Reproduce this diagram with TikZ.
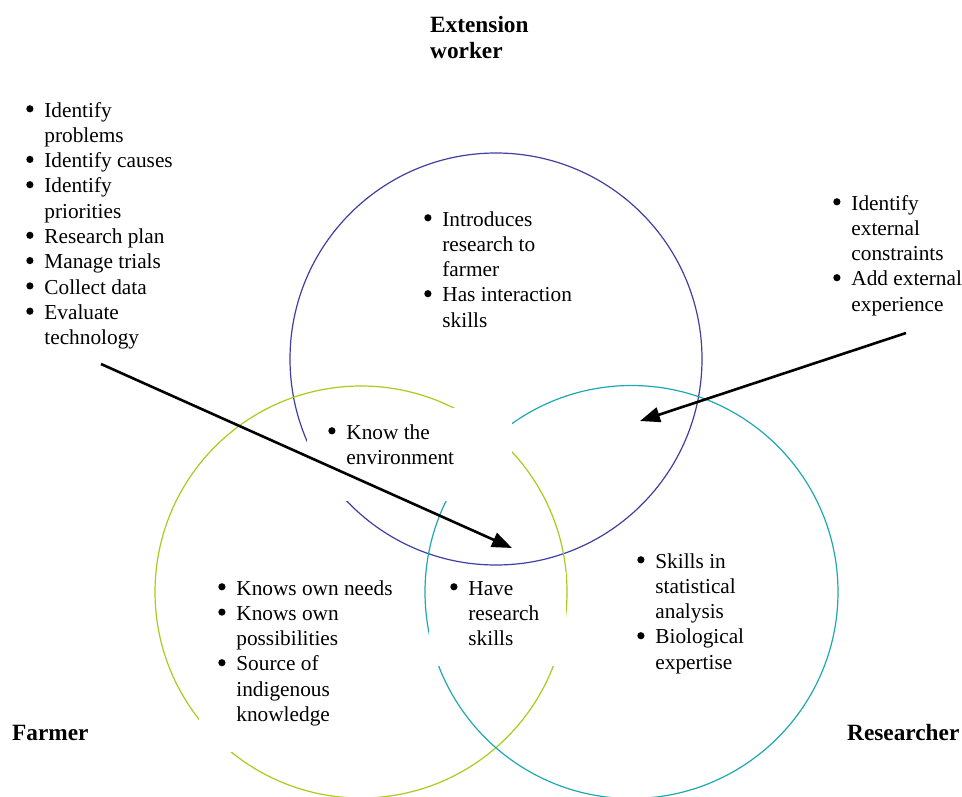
\documentclass[tikz,border=0pt]{standalone}
\usepackage{fontspec}
\setmainfont{Liberation Serif}
\usetikzlibrary{arrows.meta}
\definecolor{extcol}{RGB}{64,64,160}
\definecolor{farmcol}{RGB}{168,204,30}
\definecolor{rescol}{RGB}{32,168,176}
% round list bullet, sized to the text
\newcommand\bul{\tikz[baseline=0pt]{\fill (3.7pt,8.2pt) circle (3.6pt);
  \useasboundingbox (0pt,0pt) rectangle (7.4pt,0pt);}}
\begin{document}
\begin{tikzpicture}[x=1pt,y=-1pt,
  ring/.style={line width=1.2pt},
  mask/.style={fill=white,draw=none},
  list/.style={anchor=base west,inner sep=0pt,font=\fontsize{21.3}{25.3}\selectfont},
  head/.style={anchor=base west,inner sep=0pt,font=\fontsize{23.3}{26}\selectfont\bfseries,align=left},
  link/.style={line width=2.6pt,-{Triangle[length=20pt,width=15pt]}}]

\useasboundingbox[fill=white] (0,0) rectangle (962,796);

% the three circles
\draw[ring,extcol]  (496,359) circle (206);
\draw[ring,farmcol] (361,592) circle (206);
\draw[ring,rescol]  (631.5,592) circle (206.5);

% white panels behind the text inside the overlaps
\fill[mask] (307,408) rectangle (512,501);
\fill[mask] (429,572) rectangle (565.5,666);
\fill[mask] (199,570) rectangle (400,752);

% headings
\node[head] (ext) at (430,58) {Extension\\worker};
\node[head] (far) at (12,740) {Farmer};
\node[head] (res) at (847,740) {Researcher};

% bullet lists
\newcommand\blist[1]{\begin{tabular}[t]{@{}l@{\hspace{10.8pt}}l@{}}#1\end{tabular}}

\node[list] (farmtasks) at (26,117) {\blist{
  \bul & Identify\\ & problems\\
  \bul & Identify causes\\
  \bul & Identify\\ & priorities\\
  \bul & Research plan\\
  \bul & Manage trials\\
  \bul & Collect data\\
  \bul & Evaluate\\ & technology}};

\node[list] (exttasks) at (424,226) {\blist{
  \bul & Introduces\\ & research to\\ & farmer\\
  \bul & Has interaction\\ & skills}};

\node[list] (restasks) at (833,210) {\blist{
  \bul & Identify\\ & external\\ & constraints\\
  \bul & Add external\\ & experience}};

\node[list] (env) at (328,439) {\blist{
  \bul & Know the\\ & environment}};

\node[list] (farmown) at (218,595) {\blist{
  \bul & Knows own needs\\
  \bul & Knows own\\ & possibilities\\
  \bul & Source of\\ & indigenous\\ & knowledge}};

\node[list] (shared) at (450,595) {\blist{
  \bul & Have\\ & research\\ & skills}};

\node[list] (resown) at (637,568) {\blist{
  \bul & Skills in\\ & statistical\\ & analysis\\
  \bul & Biological\\ & expertise}};

% arrows
\coordinate (ls) at (101,364);
\coordinate (le) at (512,548);
\coordinate (rs) at (906,333);
\coordinate (re) at (640,421);
\draw[link] (ls) -- (le);
\draw[link] (rs) -- (re);
\end{tikzpicture}
\end{document}
